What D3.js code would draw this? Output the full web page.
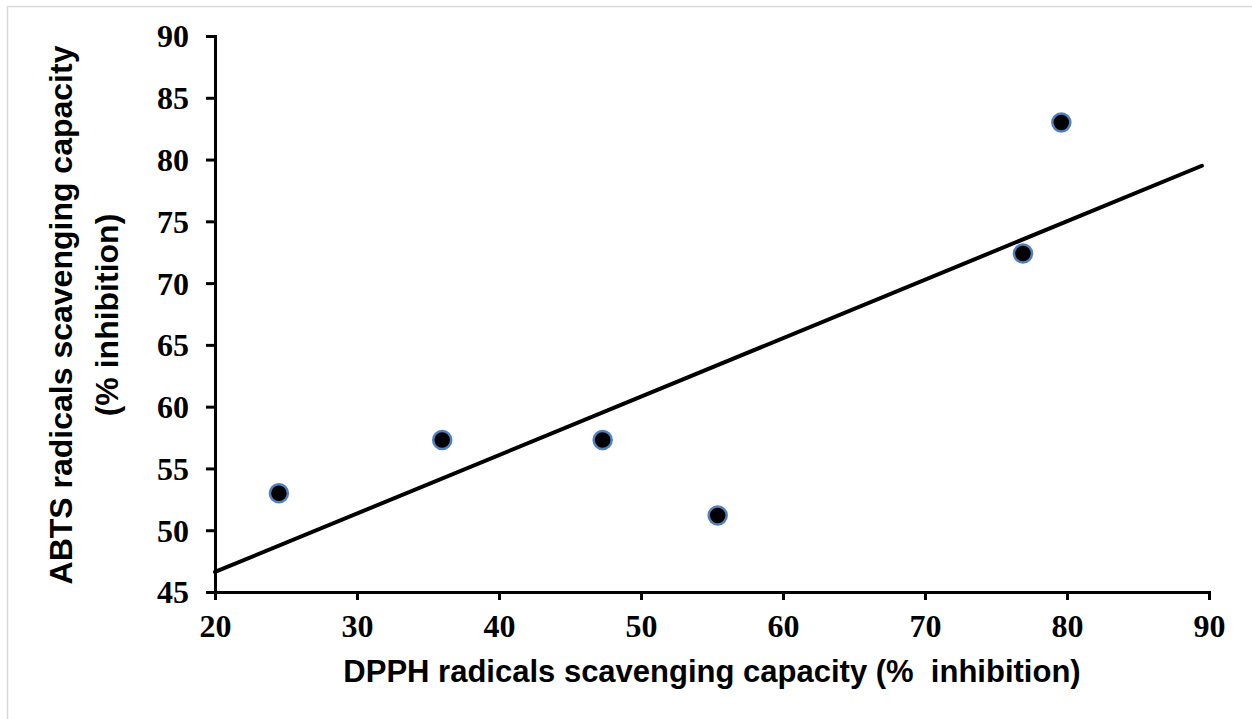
<!DOCTYPE html>
<html>
<head>
<meta charset="utf-8">
<script src="https://cdnjs.cloudflare.com/ajax/libs/d3/7.8.5/d3.min.js"></script>
<style>
  body { margin: 0; background: #fff; }
  .tick text { font-family: "Liberation Serif", "Times New Roman", serif; font-weight: bold; font-size: 32px; fill: #000; }
  .title { font-family: "Liberation Sans", Arial, sans-serif; font-weight: bold; font-size: 31px; fill: #000; }
</style>
</head>
<body>
<svg id="chart" width="1252" height="719"></svg>
<script>
// values
var dpph = [24.5, 36.0, 47.3, 55.4, 76.9, 79.6];
var abts = [53.0, 57.3, 57.3, 51.2, 72.4, 83.0];
var xTicks = [20, 30, 40, 50, 60, 70, 80, 90];
var yTicks = [45, 50, 55, 60, 65, 70, 75, 80, 85, 90];
var trendRange = [20, 89.5];

var svg = d3.select("#chart");

// thin grey frame of the chart area
svg.append("rect")
    .attr("x", 7.5).attr("y", 6.5)
    .attr("width", 1260).attr("height", 730)
    .attr("fill", "none")
    .attr("stroke", "#d9d9d9")
    .attr("stroke-width", 1.5);

var xScale = d3.scaleLinear().domain([20, 90]).range([215, 1209]);
var yScale = d3.scaleLinear().domain([45, 90]).range([592, 36]);

var xAxis = d3.axisBottom(xScale).tickValues(xTicks).tickSizeOuter(0).tickSize(8).tickPadding(14);
var yAxis = d3.axisLeft(yScale).tickValues(yTicks).tickSizeOuter(0).tickSize(9).tickPadding(17);

var gx = svg.append("g").attr("transform", "translate(0," + yScale(45) + ")").call(xAxis);
var gy = svg.append("g").attr("transform", "translate(" + xScale(20) + ",0)").call(yAxis);

[gx, gy].forEach(function(g){
    g.select(".domain").attr("stroke", "#000").attr("stroke-width", 3);
    g.selectAll(".tick line").attr("stroke", "#000").attr("stroke-width", 3);
});
gy.selectAll(".tick text").attr("dy", "0.34em");

// least squares trendline from the points
var mx = d3.mean(dpph), my = d3.mean(abts);
var sxy = d3.sum(dpph, function(d, i){ return (d - mx) * (abts[i] - my); });
var sxx = d3.sum(dpph, function(d){ return (d - mx) * (d - mx); });
var slope = sxy / sxx, icpt = my - slope * mx;

svg.append("line")
    .attr("x1", xScale(trendRange[0])).attr("y1", yScale(icpt + slope * trendRange[0]))
    .attr("x2", xScale(trendRange[1])).attr("y2", yScale(icpt + slope * trendRange[1]))
    .attr("stroke", "#000")
    .attr("stroke-width", 4)
    .attr("stroke-linecap", "round");

svg.selectAll("circle.pt")
    .data(dpph)
    .enter().append("circle")
    .attr("class", "pt")
    .attr("cx", function(d){ return xScale(d); })
    .attr("cy", function(d, i){ return yScale(abts[i]); })
    .attr("r", 9)
    .attr("fill", "#000")
    .attr("stroke", "#4f81bd")
    .attr("stroke-width", 2.5);

svg.append("text")
    .attr("class", "title")
    .attr("x", 712).attr("y", 682)
    .attr("text-anchor", "middle")
    .attr("xml:space", "preserve")
    .text("DPPH radicals scavenging capacity (%  inhibition)");

var yt = svg.append("text")
    .attr("class", "title")
    .attr("transform", "translate(72,315) rotate(-90)")
    .attr("text-anchor", "middle")
    .style("font-size", "32px");
yt.append("tspan").attr("x", 0).attr("y", 0).text("ABTS radicals scavenging capacity");
yt.append("tspan").attr("x", 0).attr("y", 46).text("(% inhibition)");
</script>
</body>
</html>
